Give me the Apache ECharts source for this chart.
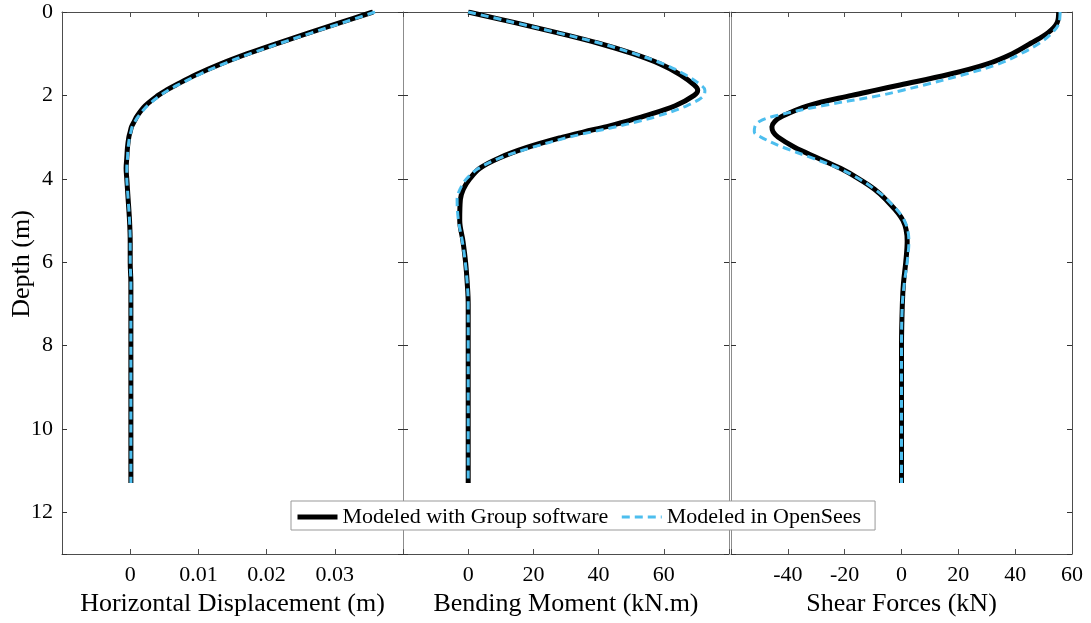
<!DOCTYPE html>
<html>
<head>
<meta charset="utf-8">
<script src="https://cdn.jsdelivr.net/npm/echarts@6/dist/echarts.min.js"></script>
<style>
  html, body { margin: 0; padding: 0; background: #fff; }
  #pile-chart { width: 1091px; height: 623px; }
</style>
</head>
<body>
<div id="pile-chart"></div>
<script>
// depth along the pile (m)
const depths = [0, 0.25, 0.5, 0.75, 1, 1.25, 1.5, 1.75, 1.875, 2, 2.25, 2.5, 2.625, 2.75, 2.875, 3, 3.25, 3.5, 3.75, 4, 4.25, 4.5, 5, 5.5, 6, 6.5, 7, 8, 9, 10, 11.3];

// horizontal displacement (m)
const dispGroup = [0.0356, 0.0309, 0.0262, 0.0216, 0.0172, 0.0132, 0.0097, 0.0067, 0.0053, 0.0041, 0.0022, 0.0010, 0.0006, 0.0002, 0.0000, -0.0002, -0.0004, -0.0005, -0.0006, -0.0005, -0.0004, -0.0003, -0.0001, 0, 0, 0.0001, 0.0001, 0.0001, 0.0001, 0.0001, 0.0001];
const dispOpenSees = [0.0359, 0.0313, 0.0266, 0.0220, 0.0176, 0.0136, 0.0101, 0.0070, 0.0056, 0.0044, 0.0025, 0.0012, 0.0007, 0.0003, 0.0001, -0.0001, -0.0003, -0.0004, -0.0005, -0.0005, -0.0004, -0.0003, -0.0001, 0, 0, 0.0001, 0.0001, 0.0001, 0.0001, 0.0001, 0.0001];

// bending moment (kN.m)
const momentGroup = [0, 14, 27.5, 40, 50.5, 59, 65, 69.3, 70.4, 69.3, 63.5, 54, 48.5, 42.5, 35.5, 29, 18, 9.5, 3.5, 0.5, -1.5, -2.4, -2.6, -1.6, -0.8, -0.3, 0, 0, 0, 0, 0];
const momentOpenSees = [0, 14, 27.5, 40.5, 51, 60, 66.5, 71.3, 72.6, 72.3, 67, 58, 52, 45.5, 38, 31, 19.5, 9.8, 3.2, -0.5, -2.5, -3.4, -3, -1.8, -0.9, -0.3, 0, 0, 0, 0, 0];

// shear force (kN)
const shearGroup = [55.3, 54.8, 51.5, 45.5, 39, 30, 16.5, -0.5, -9, -17.5, -33, -42, -44.6, -45.6, -45.2, -43.5, -37.5, -29.5, -21.5, -15, -9.5, -5.5, 0.5, 2, 1.5, 0.7, 0.3, 0, 0, 0, 0];
const shearOpenSees = [55.8, 55.5, 53, 48.5, 42, 34, 22, 8, 0.5, -7.5, -28, -45, -50, -51.6, -51.8, -49.5, -41.5, -31.5, -22, -15, -9.5, -5, 1, 2.6, 2, 1, 0.3, 0, 0, 0, 0];

const depthTicks = [0, 2, 4, 6, 8, 10, 12];
const nameGroup = 'Modeled with Group software';
const nameOpenSees = 'Modeled in OpenSees';

const font = 'Liberation Serif';
const frameColor = '#4d4d4d';
const innerColor = '#8c8c8c';
const blue = '#4DBEEE';

const toPoints = (vals) => vals.map((v, i) => [v, depths[i]]);

const grids = [
    { left: 62, right: 688, top: 12, bottom: 69 },
    { left: 403, right: 362, top: 12, bottom: 69 },
    { left: 731, right: 19, top: 12, bottom: 69 },
];

const panels = [
    { min: -0.01, max: 0.04, interval: 0.01, title: 'Horizontal Displacement (m)', hide: v => v < -1e-9 || v > 0.035 },
    { min: -20, max: 80, interval: 20, title: 'Bending Moment (kN.m)', hide: v => v < 0 || v > 70 },
    { min: -60, max: 60, interval: 20, title: 'Shear Forces (kN)', hide: v => v < -50 },
];

const labelStyle = { fontFamily: font, fontSize: 22, color: '#000' };

const xAxes = [];
const yAxes = [];
panels.forEach((p, i) => {
    xAxes.push({
        type: 'value',
        gridIndex: i,
        position: 'bottom',
        min: p.min,
        max: p.max,
        interval: p.interval,
        name: p.title,
        nameLocation: 'middle',
        nameGap: 37,
        nameTextStyle: { fontFamily: font, fontSize: 26, color: '#000' },
        axisLine: { onZero: false, lineStyle: { color: frameColor, width: 1 } },
        axisTick: { inside: true, length: 5, lineStyle: { color: frameColor } },
        axisLabel: {
            ...labelStyle,
            margin: 10,
            formatter: v => (p.hide(v) ? '' : String(v)),
        },
        splitLine: { show: false },
    });
});
panels.forEach((p, i) => {
    xAxes.push({
        type: 'value',
        gridIndex: i,
        position: 'top',
        min: p.min,
        max: p.max,
        interval: p.interval,
        axisLine: { onZero: false, lineStyle: { color: frameColor, width: 1 } },
        axisTick: { inside: true, length: 5, lineStyle: { color: frameColor } },
        axisLabel: { show: false },
        splitLine: { show: false },
    });
});
for (let i = 0; i < 3; i++) {
    yAxes.push({
        type: 'value',
        gridIndex: i,
        position: 'left',
        inverse: true,
        min: 0,
        max: 13,
        interval: 2,
        axisLine: { onZero: false, lineStyle: { color: i === 0 ? frameColor : innerColor, width: 1 } },
        axisTick: { inside: true, length: 5, lineStyle: { color: '#333' } },
        axisLabel: {
            show: i === 0,
            ...labelStyle,
            margin: 9,
            formatter: v => (depthTicks.includes(v) ? String(v) : ''),
        },
        splitLine: { show: false },
    });
}
for (let i = 0; i < 3; i++) {
    yAxes.push({
        type: 'value',
        gridIndex: i,
        position: 'right',
        inverse: true,
        min: 0,
        max: 13,
        interval: 2,
        axisLine: { onZero: false, lineStyle: { color: i === 2 ? frameColor : innerColor, width: 1 } },
        axisTick: { inside: true, length: 5, lineStyle: { color: '#333' } },
        axisLabel: { show: false },
        splitLine: { show: false },
    });
}

const seriesData = [
    [dispGroup, dispOpenSees],
    [momentGroup, momentOpenSees],
    [shearGroup, shearOpenSees],
];
const series = [];
seriesData.forEach(([group, opensees], i) => {
    series.push({
        name: nameGroup,
        type: 'line',
        xAxisIndex: i,
        yAxisIndex: i,
        data: toPoints(group),
        smooth: 0.35,
        symbol: 'none',
        lineStyle: { color: '#000', width: 5 },
        itemStyle: { color: '#000' },
        z: 3,
    });
    series.push({
        name: nameOpenSees,
        type: 'line',
        xAxisIndex: i,
        yAxisIndex: i,
        data: toPoints(opensees),
        smooth: 0.35,
        symbol: 'none',
        lineStyle: { color: blue, width: 3, type: [8, 5] },
        itemStyle: { color: blue },
        z: 4,
    });
});

const chart = echarts.init(document.getElementById('pile-chart'));
chart.setOption({
    backgroundColor: '#fff',
    animation: false,
    textStyle: { fontFamily: font },
    grid: grids,
    xAxis: xAxes,
    yAxis: yAxes,
    legend: {
        left: 291,
        top: 501,
        padding: [5, 14, 2, 4],
        itemGap: 12,
        itemWidth: 40,
        itemHeight: 2,
        backgroundColor: '#fff',
        borderColor: '#999',
        borderWidth: 1,
        borderRadius: 0,
        itemStyle: { opacity: 0 },
        textStyle: { ...labelStyle },
        data: [
            { name: nameGroup, lineStyle: { color: '#000', width: 5 } },
            { name: nameOpenSees, lineStyle: { color: blue, width: 3, type: [8, 5] } },
        ],
    },
    graphic: [{
        type: 'text',
        x: 22,
        y: 264,
        rotation: Math.PI / 2,
        style: {
            text: 'Depth (m)',
            font: `26px ${font}`,
            fill: '#000',
            align: 'center',
            verticalAlign: 'middle',
        },
    }],
    series,
});
window.addEventListener('resize', () => {
    chart.resize();
});
</script>
</body>
</html>
